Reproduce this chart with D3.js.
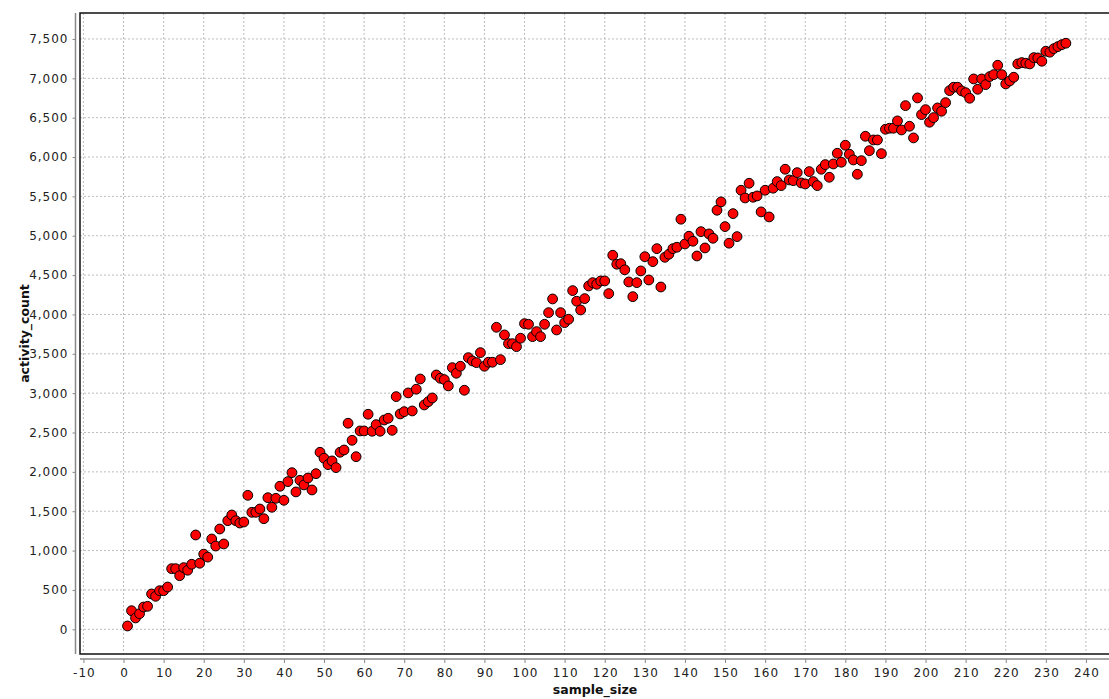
<!DOCTYPE html>
<html lang="en">
  <head>
    <meta charset="utf-8">
    <title>activity_count vs sample_size</title>
    <script src="https://d3js.org/d3.v7.min.js"></script>
    <style>
      body { margin: 0; background: #fff; }
      text { font-family: "DejaVu Sans", sans-serif; }
      .tick-label { font-size: 12px; letter-spacing: 1px; fill: #222; }
      .title { font-size: 12.5px; font-weight: bold; fill: #111; }
    </style>
  </head>
  <body>
    <div id="main"></div>
    <script>
      // activity_count for sample_size = 1, 2, 3, ...
      var activityCount = [
        42, 236, 144, 198, 283, 292, 449, 419, 490, 490,
        537, 770, 770, 681, 783, 750, 826, 1198, 839, 955,
        917, 1147, 1058, 1274, 1084, 1380, 1452, 1380, 1350, 1363,
        1702, 1486, 1486, 1528, 1405, 1672, 1550, 1664, 1817, 1639,
        1876, 1990, 1745, 1893, 1834, 1922, 1770, 1977, 2249, 2173,
        2092, 2139, 2054, 2249, 2278, 2618, 2401, 2193, 2520, 2520,
        2732, 2516, 2600, 2516, 2659, 2681, 2528, 2956, 2736, 2765,
        3003, 2774, 3050, 3180, 2850, 2892, 2939, 3231, 3189, 3172,
        3092, 3324, 3253, 3342, 3037, 3451, 3409, 3388, 3515, 3342,
        3393, 3393, 3837, 3426, 3740, 3629, 3629, 3591, 3698, 3883,
        3875, 3718, 3782, 3718, 3875, 4023, 4197, 3803, 4023, 3896,
        3939, 4303, 4168, 4057, 4201, 4362, 4404, 4384, 4426, 4426,
        4265, 4752, 4638, 4645, 4567, 4413, 4226, 4404, 4553, 4734,
        4438, 4671, 4836, 4349, 4726, 4765, 4836, 4854, 5210, 4896,
        4994, 4930, 4743, 5052, 4845, 5023, 4968, 5324, 5430, 5116,
        4905, 5281, 4989, 5578, 5480, 5667, 5489, 5506, 5303, 5578,
        5239, 5604, 5688, 5637, 5845, 5709, 5700, 5802, 5671, 5658,
        5815, 5688, 5637, 5845, 5904, 5743, 5912, 6048, 5934, 6150,
        6036, 5963, 5781, 5954, 6264, 6081, 6217, 6217, 6043, 6353,
        6366, 6366, 6459, 6344, 6653, 6391, 6243, 6751, 6539, 6602,
        6442, 6501, 6624, 6582, 6691, 6844, 6887, 6887, 6840, 6818,
        6747, 6992, 6861, 6992, 6920, 7022, 7047, 7166, 7047, 6929,
        6967, 7014, 7183, 7200, 7192, 7183, 7263, 7259, 7217, 7344,
        7332, 7377, 7403, 7428, 7446
      ];
      var sampleSize = activityCount.map(function(d, i) { return i + 1; });
      var xTicks = d3.range(-10, 241, 10);
      var yTicks = d3.range(0, 7501, 500);

      var width = 1109, height = 699;
      var plotLeft = 80, plotTop = 13, plotRight = 1110, plotBottom = 654;

      var svg = d3.select("#main").append("svg")
        .attr("width", width)
        .attr("height", height);

      var x = d3.scaleLinear().domain([-10.85, 246]).range([plotLeft, plotRight]);
      var y = d3.scaleLinear().domain([-314, 7830]).range([plotBottom, plotTop]);

      // grid
      svg.append("g").selectAll("line").data(xTicks).enter().append("line")
        .attr("x1", function(d) { return x(d); })
        .attr("x2", function(d) { return x(d); })
        .attr("y1", plotTop)
        .attr("y2", plotBottom)
        .attr("stroke", "#bdbdbd")
        .attr("stroke-dasharray", "2,2");
      svg.append("g").selectAll("line").data(yTicks).enter().append("line")
        .attr("x1", plotLeft)
        .attr("x2", plotRight)
        .attr("y1", function(d) { return y(d); })
        .attr("y2", function(d) { return y(d); })
        .attr("stroke", "#bdbdbd")
        .attr("stroke-dasharray", "2,2");

      // plot frame
      svg.append("rect")
        .attr("x", plotLeft)
        .attr("y", plotTop)
        .attr("width", plotRight - plotLeft)
        .attr("height", plotBottom - plotTop)
        .attr("fill", "none")
        .attr("stroke", "#111")
        .attr("stroke-width", 1.5);

      // axes, drawn a little outside the frame
      var xAxis = svg.append("g")
        .attr("transform", "translate(0," + (plotBottom + 5) + ")")
        .call(d3.axisBottom(x).tickValues(xTicks).tickSize(4).tickPadding(5)
          .tickFormat(function(d) { return String(d); }));
      var yAxis = svg.append("g")
        .attr("transform", "translate(" + (plotLeft - 4.5) + ",0)")
        .call(d3.axisLeft(y).tickValues(yTicks).tickSize(3).tickPadding(4).tickFormat(d3.format(",")));
      [xAxis, yAxis].forEach(function(a) {
        a.attr("font-family", null).attr("font-size", null);
        a.select(".domain").attr("stroke", "#888").attr("stroke-width", 1.5);
        a.selectAll(".tick line").attr("stroke", "#888");
        a.selectAll(".tick text").attr("class", "tick-label");
      });
      xAxis.select(".domain").attr("d", "M" + plotLeft + ",0H" + plotRight);
      yAxis.select(".domain").attr("d", "M0," + plotTop + "V" + plotBottom);
      xAxis.selectAll(".tick text").attr("dx", "0.5px");

      // points
      svg.append("g").selectAll("circle").data(sampleSize).enter().append("circle")
        .attr("cx", function(d) { return x(d); })
        .attr("cy", function(d, i) { return y(activityCount[i]); })
        .attr("r", 4.9)
        .attr("fill", "#ff0000")
        .attr("stroke", "#000")
        .attr("stroke-width", 1);

      // axis titles
      svg.append("text")
        .attr("class", "title")
        .attr("x", (plotLeft + plotRight) / 2)
        .attr("y", 694)
        .attr("text-anchor", "middle")
        .text("sample_size");
      svg.append("text")
        .attr("class", "title")
        .attr("transform", "translate(29," + ((plotTop + plotBottom) / 2) + ") rotate(-90)")
        .attr("text-anchor", "middle")
        .text("activity_count");
    </script>
  </body>
</html>
